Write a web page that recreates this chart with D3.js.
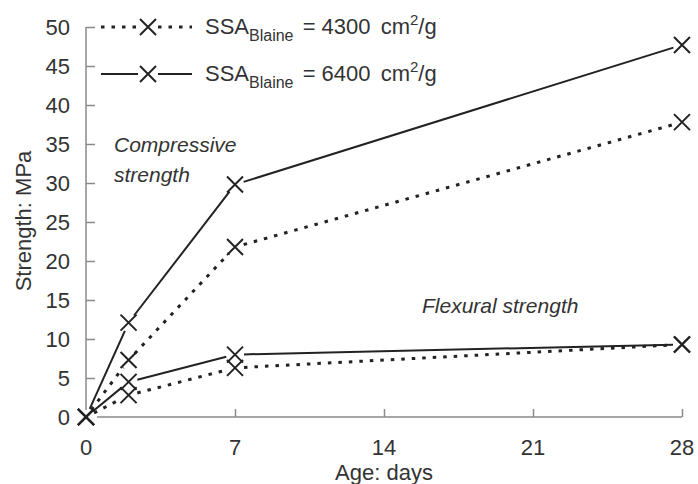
<!DOCTYPE html>
<html><head><meta charset="utf-8">
<script src="https://cdn.jsdelivr.net/npm/d3@7"></script>
<style>body{margin:0;background:#fff}svg{display:block}</style>
</head><body>
<script>
const days = [0, 2, 7, 28];
const comp4300 = [0, 7.3, 21.8, 37.8];
const comp6400 = [0, 12.1, 29.8, 47.7];
const flex4300 = [0, 2.8, 6.3, 9.3];
const flex6400 = [0, 4.5, 8.0, 9.3];
const xTicks = [0, 7, 14, 21, 28];
const yTicks = [0, 5, 10, 15, 20, 25, 30, 35, 40, 45, 50];

const W = 698, H = 484;
const svg = d3.select("body").append("svg").attr("width", W).attr("height", H)
  .style("font-family", "'Liberation Sans', Arial, sans-serif");

const x = d3.scaleLinear().domain([0, 28]).range([86, 682]);
const y = d3.scaleLinear().domain([0, 50]).range([417, 27]);
const axisCol = "#8a8a8a", textCol = "#333", lineCol = "#222";
const FS = 22;

// y axis
const yAxis = svg.append("g").attr("transform", "translate(86,0)")
  .call(d3.axisRight(y).tickValues(yTicks).tickSize(9).tickFormat(""));
yAxis.select(".domain").remove();
yAxis.selectAll(".tick line").attr("stroke", axisCol).attr("stroke-width", 1.5);
yAxis.selectAll(".tick").filter(d => d === 0).remove();
svg.append("line").attr("x1", 86).attr("x2", 86).attr("y1", y(50)).attr("y2", 410)
  .attr("stroke", axisCol).attr("stroke-width", 1.5);
svg.selectAll(".ylab").data(yTicks).enter().append("text")
  .attr("x", 70).attr("y", d => y(d)).attr("dy", "0.36em").attr("text-anchor", "end")
  .attr("font-size", FS).attr("fill", textCol).text(d => d);

// x axis
const xAxis = svg.append("g").attr("transform", "translate(0,417)")
  .call(d3.axisTop(x).tickValues(xTicks.filter(d => d > 0)).tickSize(8).tickFormat(""));
xAxis.select(".domain").remove();
xAxis.selectAll(".tick line").attr("stroke", axisCol).attr("stroke-width", 1.5);
svg.append("line").attr("x1", 97).attr("x2", x(28)).attr("y1", 417).attr("y2", 417)
  .attr("stroke", axisCol).attr("stroke-width", 1.5);
svg.selectAll(".xlab").data(xTicks).enter().append("text")
  .attr("x", d => x(d)).attr("y", 455).attr("text-anchor", "middle")
  .attr("font-size", FS).attr("fill", textCol).text(d => d);

svg.append("text").attr("x", 384).attr("y", 480).attr("text-anchor", "middle")
  .attr("font-size", FS).attr("fill", textCol).text("Age: days");
svg.append("text").attr("transform", "translate(31,221) rotate(-90)").attr("text-anchor", "middle")
  .attr("font-size", FS).attr("fill", textCol).text("Strength: MPa");

// series
const series = [
  {vals: comp4300, dotted: true},
  {vals: comp6400, dotted: false},
  {vals: flex4300, dotted: true},
  {vals: flex6400, dotted: false}
];
const GAP = 9;
function styleLine(sel, dotted) {
  sel.attr("fill", "none").attr("stroke", lineCol)
    .attr("stroke-width", dotted ? 3 : 2);
  if (dotted) sel.attr("stroke-dasharray", "3.5,7");
}
series.forEach(s => {
  for (let i = 0; i < days.length - 1; i++) {
    const x1 = x(days[i]), y1 = y(s.vals[i]), x2 = x(days[i + 1]), y2 = y(s.vals[i + 1]);
    const len = Math.hypot(x2 - x1, y2 - y1), ux = (x2 - x1) / len, uy = (y2 - y1) / len;
    const seg = svg.append("line")
      .attr("x1", x1 + ux * GAP).attr("y1", y1 + uy * GAP)
      .attr("x2", x2 - ux * GAP).attr("y2", y2 - uy * GAP);
    styleLine(seg, s.dotted);
  }
});
function marker(g, cx, cy) {
  const r = 8;
  g.append("path").attr("d", `M${cx - r},${cy - r}L${cx + r},${cy + r}M${cx - r},${cy + r}L${cx + r},${cy - r}`)
    .attr("stroke", lineCol).attr("stroke-width", 2).attr("fill", "none");
}
series.forEach(s => {
  days.forEach((d, i) => marker(svg, x(d), y(s.vals[i])));
});

// legend
const legend = [
  {dotted: true, val: "4300", ly: 27},
  {dotted: false, val: "6400", ly: 74}
];
legend.forEach(l => {
  styleLine(svg.append("line").attr("x1", 101).attr("x2", 138).attr("y1", l.ly).attr("y2", l.ly), l.dotted);
  styleLine(svg.append("line").attr("x1", 158).attr("x2", 192).attr("y1", l.ly).attr("y2", l.ly), l.dotted);
  marker(svg, 148, l.ly);
  const t = svg.append("text").attr("x", 205).attr("y", l.ly + 7).attr("font-size", FS).attr("fill", textCol);
  t.append("tspan").text("SSA");
  t.append("tspan").attr("font-size", 16).attr("dy", 7).text("Blaine");
  t.append("tspan").attr("dy", -7).attr("dx", 3).text(" = " + l.val);
  t.append("tspan").attr("dx", 4).text(" cm");
  t.append("tspan").attr("font-size", 15).attr("dy", -9).text("2");
  t.append("tspan").attr("dy", 9).text("/g");
});

// annotations
svg.append("text").attr("x", 114).attr("y", 152).attr("font-size", 21).attr("font-style", "italic")
  .attr("fill", textCol).text("Compressive");
svg.append("text").attr("x", 114).attr("y", 182).attr("font-size", 21).attr("font-style", "italic")
  .attr("fill", textCol).text("strength");
svg.append("text").attr("x", 422).attr("y", 313).attr("font-size", 21).attr("font-style", "italic")
  .attr("fill", textCol).text("Flexural strength");
</script>
</body></html>
